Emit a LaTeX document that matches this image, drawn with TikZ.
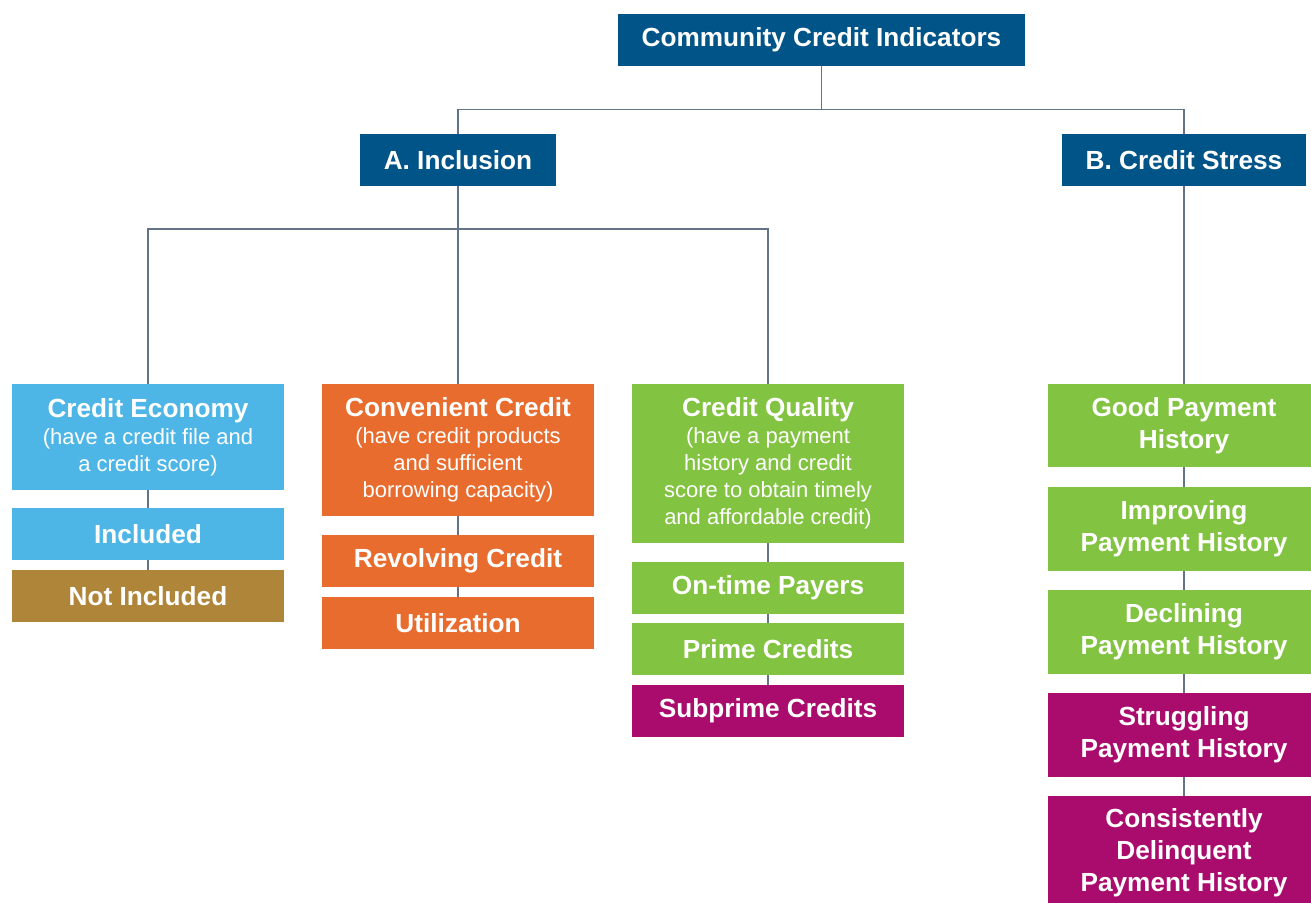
\documentclass[tikz,border=0pt]{standalone}
\usepackage{fontspec}
\setmainfont{Liberation Sans}
\definecolor{navy}{RGB}{0,84,135}
\definecolor{sky}{RGB}{78,182,230}
\definecolor{orng}{RGB}{233,108,47}
\definecolor{lgreen}{RGB}{130,195,65}
\definecolor{mag}{RGB}{169,12,108}
\definecolor{gold}{RGB}{175,133,58}
\definecolor{linec}{RGB}{100,115,135}
\newcommand{\ttl}{\fontsize{26.2}{32}\selectfont\bfseries}
\newcommand{\dsc}{\fontsize{22}{27}\selectfont\mdseries}
\begin{document}
\begin{tikzpicture}[x=1pt,y=-1pt,
  box/.style={fill=#1,text=white,minimum width=272pt,inner sep=0pt,align=center,font=\ttl},
  hd/.style={fill=navy,text=white,minimum height=52pt,inner sep=0pt,align=center,font=\ttl},
  conn/.style={draw=linec,line width=1.4pt}]
\useasboundingbox (0,0) rectangle (1311,902);
\begin{scope}
\clip (0,0) rectangle (1311,902);
\node[hd,minimum width=407pt] (top) at (821.5,40) {Community Credit Indicators};
\node[hd,minimum width=196pt] (A) at (458,160) {A. Inclusion};
\node[hd,minimum width=244pt] (B) at (1184,160) {B. Credit Stress};

\node[box=sky,minimum height=106pt] (ce) at (148,437) {Credit Economy\\[-5pt]{\dsc (have a credit file and}\\[-5pt]{\dsc a credit score)}};
\node[box=sky,minimum height=52pt] (inc) at (148,534) {Included};
\node[box=gold,minimum height=52pt] (ninc) at (148,596) {Not Included};

\node[box=orng,minimum height=132pt] (cc) at (458,450) {Convenient Credit\\[-5pt]{\dsc (have credit products}\\[-5pt]{\dsc and sufficient}\\[-5pt]{\dsc borrowing capacity)}};
\node[box=orng,minimum height=52pt] (rev) at (458,561) {Revolving Credit};
\node[box=orng,minimum height=52pt] (util) at (458,623) {Utilization};

\node[box=lgreen,minimum height=159pt] (cq) at (768,463.5) {Credit Quality\\[-5pt]{\dsc (have a payment}\\[-5pt]{\dsc history and credit}\\[-5pt]{\dsc score to obtain timely}\\[-5pt]{\dsc and affordable credit)}};
\node[box=lgreen,minimum height=52pt] (ot) at (768,588) {On-time Payers};
\node[box=lgreen,minimum height=52pt] (pr) at (768,649) {Prime Credits};
\node[box=mag,minimum height=52pt] (sp) at (768,711) {Subprime Credits};

\node[box=lgreen,minimum height=83pt] (gp) at (1184,425.5) {Good Payment\\History};
\node[box=lgreen,minimum height=84pt] (ip) at (1184,529) {Improving\\Payment History};
\node[box=lgreen,minimum height=84pt] (dp) at (1184,632) {Declining\\Payment History};
\node[box=mag,minimum height=84pt] (sg) at (1184,735) {Struggling\\Payment History};
\node[box=mag,minimum height=114pt] (cd) at (1184,853) {Consistently\\Delinquent\\Payment History};
\end{scope}

\coordinate (j1) at (821.5,109.5);
\coordinate (j2) at (458,229);
\draw[conn] (top.south) -- (j1);
\draw[conn] (A.north) -- (A.north |- j1) -- (B.north |- j1) -- (B.north);
\draw[conn] (A.south) -- (j2);
\draw[conn] (ce.north) -- (ce.north |- j2) -- (cq.north |- j2) -- (cq.north);
\draw[conn] (j2) -- (cc.north);
\draw[conn] (B.south) -- (gp.north);
\draw[conn] (ce) -- (inc) (inc) -- (ninc);
\draw[conn] (cc) -- (rev) (rev) -- (util);
\draw[conn] (cq) -- (ot) (ot) -- (pr) (pr) -- (sp);
\draw[conn] (gp) -- (ip) (ip) -- (dp) (dp) -- (sg) (sg) -- (cd);
\end{tikzpicture}
\end{document}
